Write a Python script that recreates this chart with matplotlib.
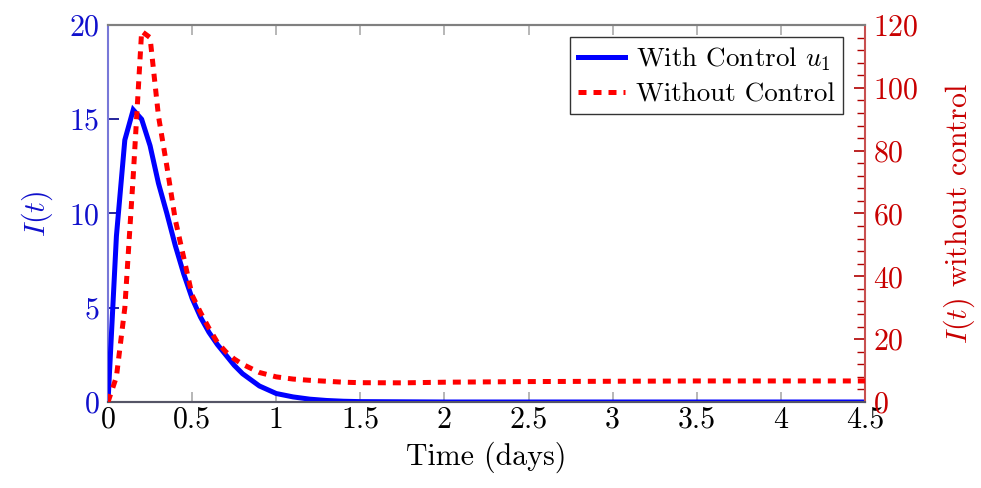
import matplotlib
matplotlib.use("Agg")
import matplotlib.pyplot as plt
from matplotlib.ticker import MultipleLocator, FormatStrFormatter

plt.rcParams['font.family'] = 'serif'
plt.rcParams['font.serif'] = ['cmr10']
plt.rcParams['mathtext.fontset'] = 'cm'
plt.rcParams['axes.formatter.use_mathtext'] = True

# time points (days)
t = [0, 0.05, 0.1, 0.15, 0.2, 0.25, 0.3, 0.35, 0.4, 0.45, 0.5, 0.55, 0.6,
     0.65, 0.7, 0.75, 0.8, 0.9, 1.0, 1.1, 1.2, 1.3, 1.4, 1.5, 1.75, 2.0,
     2.5, 3.0, 3.5, 4.0, 4.5]

# infected with control u1 (left axis)
i_control = [0, 8.8, 13.9, 15.5, 15.0, 13.6, 11.6, 10.0, 8.3, 6.8, 5.5, 4.5,
             3.7, 3.05, 2.5, 1.95, 1.5, 0.85, 0.45, 0.27, 0.15, 0.08, 0.04,
             0.02, 0.01, 0.0, 0.0, 0.0, 0.0, 0.0, 0.0]

# infected without control (right axis)
i_nocontrol = [0, 8, 30, 72, 118, 116, 91, 75, 58, 46, 34, 28.5, 23.5, 19,
               16, 13.7, 12, 9.4, 8.0, 7.3, 6.9, 6.6, 6.3, 6.15, 6.1, 6.3,
               6.5, 6.6, 6.7, 6.7, 6.7]

blue = '#0000ff'
blue_txt = '#1010cc'
red = '#ff0000'
red_txt = '#c80000'

fig = plt.figure(figsize=(9.81, 4.88), dpi=100)
ax = fig.add_axes([108/981, 1 - 402/488, (865-108)/981, (402-25)/488])
ax2 = ax.twinx()

l1, = ax.plot(t, i_control, color=blue, lw=3.6, solid_joinstyle='miter',
              label='With Control $u_1$', zorder=3)
l2, = ax2.plot(t, i_nocontrol, color=red, lw=3.6, dashes=(1.6, 1.4),
               dash_capstyle='butt', label='Without Control', zorder=3)

ax.set_xlim(0, 4.5)
ax.set_ylim(0, 20)
ax2.set_ylim(0, 120)

ax.xaxis.set_major_locator(MultipleLocator(0.5))
ax.xaxis.set_major_formatter(FormatStrFormatter('%g'))
ax.yaxis.set_major_locator(MultipleLocator(5))
ax2.yaxis.set_major_locator(MultipleLocator(20))
ax2.yaxis.set_minor_locator(MultipleLocator(4))

ax.tick_params(axis='x', direction='in', top=True, bottom=True, length=7,
               width=1.2, color='#aaaaaa', labelsize=21.5, pad=3,
               labelcolor='black')
ax.tick_params(axis='y', direction='in', left=True, right=False, length=8,
               width=1.2, color='#00008b', labelsize=21.5, pad=6,
               labelcolor=blue_txt)
ax2.tick_params(axis='y', which='major', direction='in', length=8, width=1.2,
                color='#b00000', labelsize=21.5, pad=6, labelcolor=red_txt)
ax2.tick_params(axis='y', which='minor', direction='in', length=6, width=1.0,
                color='#b00000')

for a in (ax, ax2):
    a.spines['top'].set_color('#808080')
    a.spines['bottom'].set_color('#555566')
    a.spines['top'].set_linewidth(1.5)
    a.spines['bottom'].set_linewidth(1.5)
ax.spines['left'].set_color('#7878d8')
ax.spines['left'].set_linewidth(1.5)
ax.spines['right'].set_visible(False)
ax2.spines['left'].set_visible(False)
ax2.spines['right'].set_color('#c85050')
ax2.spines['right'].set_linewidth(1.5)

ax.set_xlabel('Time (days)', fontsize=21.5, labelpad=6)
ax.set_ylabel('$I(t)$', fontsize=21.5, color=blue_txt, labelpad=10)
ax2.set_ylabel('$I(t)$ without control', fontsize=21.5, color=red_txt,
               labelpad=16)

leg = ax2.legend(handles=[l1, l2], loc='upper right',
                 bbox_to_anchor=(0.971, 0.968), borderaxespad=0,
                 fontsize=19.5, handlelength=1.75, handletextpad=0.4,
                 labelspacing=0.35, borderpad=0.3, fancybox=False,
                 framealpha=1, edgecolor='#333333')
leg.get_frame().set_linewidth(1.0)

fig.savefig('out.png', dpi=100)
